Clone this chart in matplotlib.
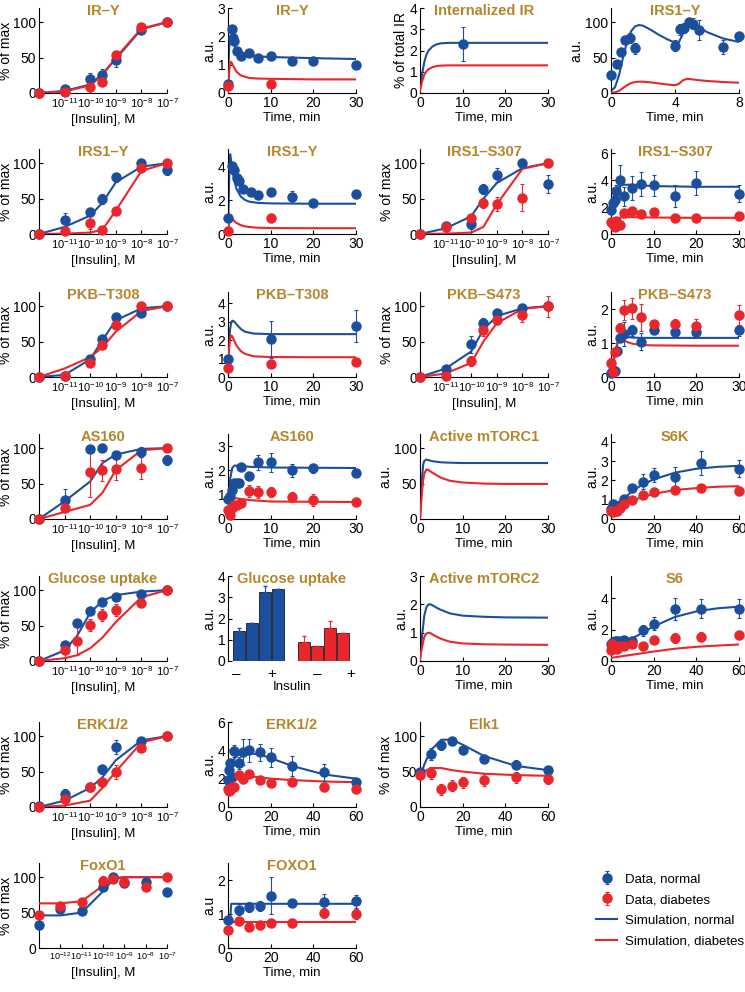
import numpy as np
import matplotlib
matplotlib.use('Agg')
import matplotlib.pyplot as plt
from matplotlib.ticker import LogLocator, NullFormatter
from matplotlib.lines import Line2D

plt.rcParams['font.family'] = ['Liberation Sans', 'DejaVu Sans']
plt.rcParams['mathtext.default'] = 'regular'

BLUE = '#1b4f9e'
RED = '#e8262c'
GOLD = '#b5852c'

# insulin concentrations (M); zero insulin sits at the left edge of the axis
conc = [1e-12, 1e-11, 1e-10, 3e-10, 1e-9, 1e-8, 1e-7]
conc_glu = [1e-12, 1e-11, 3e-11, 1e-10, 3e-10, 1e-9, 1e-8, 1e-7]
conc_foxo = [1e-13, 1e-12, 1e-11, 1e-10, 3e-10, 1e-9, 1e-8, 1e-7]

# ---- IR-Y ----
iry_dose_n = [0, 5, 20, 26, 46, 89, 100]
iry_dose_n_err = [0, 3, 8, 8, 9, 4, 0]
iry_dose_d = [0, 1, 9, 15, 54, 93, 100]
iry_dose_d_err = [0, 0, 3, 2, 4, 3, 0]
iry_dose_sim_n = [0, 3, 12, 27, 48, 90, 100]
iry_dose_sim_d = [0, 2, 11, 25, 50, 91, 100]

iry_t_n = [0, 1, 1.25, 1.5, 2, 3, 5, 7, 10, 15, 20, 30]
iry_n = [0.33, 2.25, 1.95, 1.85, 1.48, 1.32, 1.42, 1.22, 1.3, 1.12, 1.12, 1.0]
iry_n_err = [0.05, 0.1, 0.1, 0.1, 0.08, 0.08, 0.08, 0.05, 0.08, 0.05, 0.05, 0.12]
iry_t_d = [0, 10]
iry_d = [0.24, 0.33]
iry_d_err = [0.03, 0.03]
iry_sim_t = [0, 0.25, 0.5, 0.75, 1, 1.5, 2, 3, 5, 7, 10, 15, 20, 30]
iry_sim_n = [0.3, 1.5, 2.0, 1.95, 1.85, 1.65, 1.5, 1.4, 1.32, 1.29, 1.27, 1.25, 1.23, 1.2]
iry_sim_d = [0, 0.7, 1.05, 1.1, 1.02, 0.88, 0.75, 0.62, 0.53, 0.51, 0.5, 0.49, 0.48, 0.48]

# ---- Internalized IR ----
intir_t = [10]
intir_n = [2.3]
intir_n_err = [0.8]
intir_sim_t = [0, 0.5, 1, 1.5, 2, 3, 4, 5, 7, 10, 30]
intir_sim_n = [0.25, 0.9, 1.45, 1.8, 2.0, 2.2, 2.3, 2.34, 2.36, 2.36, 2.36]
intir_sim_d = [0.1, 0.55, 0.85, 1.02, 1.12, 1.22, 1.27, 1.29, 1.3, 1.3, 1.3]

# ---- IRS1-Y, 0-8 min ----
irs8_t = [0, 0.38, 0.63, 0.9, 1.2, 1.5, 4.0, 4.3, 4.55, 4.87, 5.13, 5.5, 7.0, 8.0]
irs8_n = [25, 41, 58, 75, 78, 63, 67, 90, 92, 100, 98, 89, 65, 80]
irs8_n_err = [4, 5, 6, 6, 7, 8, 8, 8, 7, 6, 8, 14, 10, 6]
irs8_sim_t = [0, 0.25, 0.5, 0.75, 1, 1.25, 1.5, 1.75, 2, 2.5, 3, 3.5, 4, 4.25, 4.5, 4.75, 5, 5.5, 6, 7, 8]
irs8_sim_n = [3, 8, 25, 50, 72, 87, 94, 96, 95, 89, 82, 76, 71, 72, 84, 95, 98, 93, 86, 77, 72]
irs8_sim_d = [0, 1, 3, 7, 11, 14, 15.5, 16, 16, 15, 13.5, 12, 11, 13, 18, 20, 19.5, 18, 17, 15.5, 14.5]

# ---- IRS1-Y ----
irs_dose_n = [0, 20, 31, 50, 80, 100, 90]
irs_dose_n_err = [0, 10, 6, 7, 6, 5, 7]
irs_dose_d = [0, 4, 16, 6, 32, 93, 100]
irs_dose_d_err = [0, 2, 9, 3, 3, 4, 0]
irs_dose_sim_n = [0, 10, 26, 44, 73, 95, 100]
irs_dose_sim_d = [0, 0.5, 2, 6, 33, 89, 100]

irs_t_n = [0, 1, 1.5, 2, 2.5, 3.5, 5.5, 7, 10, 15, 20, 30]
irs_n = [0.95, 4.0, 3.75, 3.3, 3.1, 2.65, 2.45, 2.3, 2.45, 2.2, 1.85, 2.35]
irs_n_err = [0.05, 0.2, 0.2, 0.15, 0.15, 0.1, 0.1, 0.15, 0.1, 0.35, 0.1, 0.1]
irs_t_d = [0, 10]
irs_d = [0.16, 0.97]
irs_d_err = [0.05, 0.2]
irs_sim_t = [0, 0.25, 0.5, 0.75, 1, 1.5, 2, 3, 4, 5, 7, 10, 20, 30]
irs_sim_n = [0, 3.0, 4.7, 4.3, 3.8, 3.1, 2.65, 2.2, 2.0, 1.9, 1.83, 1.8, 1.78, 1.78]
irs_sim_d = [0, 0.7, 1.0, 0.95, 0.9, 0.75, 0.65, 0.52, 0.45, 0.41, 0.37, 0.35, 0.34, 0.34]

# ---- IRS1-S307 ----
s307_dose_n = [0, 12, 14, 63, 83, 100, 71]
s307_dose_n_err = [0, 5, 7, 7, 10, 2, 13]
s307_dose_d = [0, 10, 23, 44, 42, 51, 100]
s307_dose_d_err = [0, 3, 5, 7, 10, 19, 0]
s307_dose_sim_n = [0, 8, 25, 50, 72, 93, 100]
s307_dose_sim_d = [0, 0.5, 2, 10, 42, 92, 100]

s307_t = [0, 0.5, 1, 1.25, 2, 3, 5, 7, 10, 15, 20, 30]
s307_n = [1.75, 2.3, 2.5, 3.2, 4.0, 2.8, 3.4, 3.7, 3.6, 2.8, 3.8, 3.0]
s307_n_err = [0.3, 0.3, 0.3, 0.4, 1.1, 0.7, 0.9, 0.9, 0.8, 0.8, 0.9, 0.6]
s307_d = [0.9, 0.72, 0.55, 1.0, 0.7, 1.55, 1.7, 1.5, 1.6, 1.2, 1.2, 1.3]
s307_d_err = [0.15, 0.2, 0.15, 0.2, 0.15, 0.25, 0.2, 0.15, 0.15, 0.1, 0.15, 0.1]
s307_sim_t = [0, 0.5, 1, 1.5, 2, 3, 5, 10, 20, 30]
s307_sim_n = [1.8, 2.5, 3.0, 3.35, 3.55, 3.65, 3.65, 3.55, 3.5, 3.5]
s307_sim_d = [0.9, 1.0, 1.1, 1.15, 1.2, 1.25, 1.25, 1.22, 1.2, 1.2]

# ---- PKB-T308 ----
t308_dose_n = [0, 1, 25, 54, 85, 91, 100]
t308_dose_n_err = [0, 1, 3, 5, 5, 4, 0]
t308_dose_d = [0, 2, 20, 45, 73, 100, 100]
t308_dose_d_err = [0, 1, 3, 3, 3, 3, 0]
t308_dose_sim_n = [0, 3, 25, 52, 80, 97, 100]
t308_dose_sim_d = [0, 12, 28, 42, 64, 93, 100]

t308_t = [0, 10, 30]
t308_n = [1.0, 2.05, 2.75]
t308_n_err = [0.1, 1.0, 0.85]
t308_d = [0.47, 0.7, 0.8]
t308_d_err = [0.05, 0.15, 0.07]
t308_sim_t = [0, 0.25, 0.5, 0.75, 1, 1.5, 2, 3, 4, 6, 10, 20, 30]
t308_sim_n = [1.0, 1.9, 2.6, 2.95, 3.05, 3.0, 2.85, 2.6, 2.45, 2.35, 2.32, 2.32, 2.32]
t308_sim_d = [0.5, 1.5, 2.1, 2.25, 2.2, 1.95, 1.7, 1.4, 1.25, 1.12, 1.08, 1.07, 1.07]

# ---- PKB-S473 ----
s473_dose_n = [0, 12, 46, 76, 91, 97, 100]
s473_dose_n_err = [0, 2, 12, 8, 5, 6, 0]
s473_dose_d = [0, 1, 22, 67, 80, 87, 100]
s473_dose_d_err = [0, 1, 7, 9, 5, 9, 15]
s473_dose_sim_n = [0, 12, 36, 67, 86, 97, 100]
s473_dose_sim_d = [0, 5, 20, 50, 76, 96, 100]

s473_t_n = [0, 0.5, 1, 1.5, 2, 3, 5, 7, 10, 15, 20, 30]
s473_n = [0.12, 0.2, 0.17, 0.76, 1.14, 1.27, 1.37, 1.03, 1.37, 1.32, 1.32, 1.37]
s473_n_err = [0.03, 0.05, 0.05, 0.1, 0.1, 0.35, 0.15, 0.25, 0.1, 0.15, 0.1, 0.15]
s473_t_d = [0, 0.5, 1, 2, 3, 5, 7, 10, 15, 20, 30]
s473_d = [0.4, 0.15, 0.73, 1.43, 1.97, 2.02, 1.76, 1.56, 1.56, 1.51, 1.83]
s473_d_err = [0.15, 0.05, 0.1, 0.15, 0.3, 0.3, 0.4, 0.1, 0.15, 0.2, 0.3]
s473_sim_t = [0, 0.5, 1, 1.5, 2, 2.5, 3, 4, 5, 7, 10, 20, 30]
s473_sim_n = [0.05, 0.35, 0.7, 0.98, 1.15, 1.2, 1.18, 1.17, 1.16, 1.15, 1.15, 1.15, 1.15]
s473_sim_d = [0.05, 0.4, 0.75, 1.0, 1.1, 1.12, 1.08, 1.02, 0.98, 0.94, 0.93, 0.92, 0.92]

# ---- AS160 ----
as160_dose_n = [0, 27, 99, 100, 91, 94, 83]
as160_dose_n_err = [0, 15, 3, 3, 3, 7, 7]
as160_dose_d = [0, 16, 66, 69, 70, 72, 100]
as160_dose_d_err = [0, 5, 35, 15, 15, 15, 5]
as160_dose_sim_n = [0, 25, 53, 79, 91, 99, 100]
as160_dose_sim_d = [0, 10, 20, 37, 69, 97, 100]

as160_t_n = [0, 0.5, 1, 1.5, 2, 2.5, 3, 5, 7, 10, 15, 20, 30]
as160_n = [0.84, 0.96, 1.2, 1.5, 1.5, 1.5, 2.15, 1.77, 2.33, 2.33, 2.0, 2.08, 1.9]
as160_n_err = [0.05, 0.1, 0.1, 0.1, 0.1, 0.1, 0.1, 0.1, 0.3, 0.4, 0.25, 0.2, 0.15]
as160_t_d = [0, 0.5, 1, 1.5, 2, 3, 5, 7, 10, 15, 20, 30]
as160_d = [0.37, 0.17, 0.45, 0.59, 0.59, 0.65, 1.17, 1.1, 1.1, 0.9, 0.8, 0.72]
as160_d_err = [0.1, 0.05, 0.1, 0.1, 0.1, 0.15, 0.25, 0.25, 0.2, 0.2, 0.25, 0.15]
as160_sim_t = [0, 0.25, 0.5, 1, 1.5, 2, 5, 10, 30]
as160_sim_n = [0.8, 1.2, 1.65, 2.1, 2.2, 2.2, 2.15, 2.12, 2.1]
as160_sim_d = [0.4, 0.55, 0.68, 0.8, 0.85, 0.85, 0.78, 0.72, 0.7]

# ---- Active mTORC1 ----
mtorc1_sim_t = [0, 0.25, 0.5, 0.75, 1, 1.5, 2, 3, 5, 7, 10, 15, 20, 30]
mtorc1_sim_n = [0, 30, 60, 77, 82, 84, 83, 81.5, 80, 79.5, 79, 79, 79, 79]
mtorc1_sim_d = [0, 20, 40, 55, 64, 70, 69, 65, 58, 54, 51.5, 50, 49.5, 49.5]

# ---- S6K ----
s6k_t = [0, 1, 2, 3, 4, 6, 10, 15, 20, 30, 42, 60]
s6k_n = [0.53, 0.8, 0.65, 0.58, 0.75, 1.05, 1.58, 1.93, 2.28, 2.2, 2.9, 2.6]
s6k_n_err = [0.1, 0.2, 0.1, 0.1, 0.1, 0.15, 0.2, 0.4, 0.35, 0.5, 0.6, 0.45]
s6k_d = [0.44, 0.35, 0.44, 0.4, 0.58, 0.8, 0.96, 1.23, 1.4, 1.49, 1.58, 1.44]
s6k_d_err = [0.1, 0.1, 0.1, 0.1, 0.1, 0.1, 0.1, 0.2, 0.15, 0.15, 0.15, 0.15]
s6k_sim_t = [0, 2, 5, 10, 15, 20, 30, 40, 50, 60]
s6k_sim_n = [0.7, 0.75, 0.95, 1.45, 1.8, 2.05, 2.4, 2.6, 2.7, 2.75]
s6k_sim_d = [0.45, 0.48, 0.65, 0.95, 1.15, 1.3, 1.5, 1.6, 1.67, 1.7]

# ---- Glucose uptake ----
glu_dose_n = [0, 23, 54, 71, 84, 90, 95, 100]
glu_dose_n_err = [0, 4, 5, 5, 3, 3, 3, 0]
glu_dose_d = [0, 16, 28, 51, 65, 72, 82, 100]
glu_dose_d_err = [0, 12, 20, 8, 9, 8, 6, 0]
glu_dose_sim_n = [0, 15, 35, 68, 85, 93, 98, 100]
glu_dose_sim_d = [0, 4, 8, 18, 33, 55, 90, 100]

glu_bar_n = [1.42, 1.8, 3.25, 3.38]
glu_bar_n_err = [0.12, 0, 0.28, 0]
glu_bar_d = [0.88, 0.7, 1.57, 1.32]
glu_bar_d_err = [0.3, 0, 0.3, 0]
glu_bar_ticks = ['\u2013', '+', '\u2013', '+']

# ---- Active mTORC2 ----
mtorc2_sim_t = [0, 0.25, 0.5, 1, 1.5, 2, 2.5, 3, 4, 5, 7, 10, 15, 20, 30]
mtorc2_sim_n = [0.1, 0.5, 0.9, 1.6, 1.9, 2.0, 2.0, 1.96, 1.87, 1.8, 1.68, 1.6, 1.56, 1.54, 1.53]
mtorc2_sim_d = [0.05, 0.3, 0.5, 0.85, 0.97, 1.0, 0.98, 0.93, 0.85, 0.78, 0.68, 0.62, 0.59, 0.58, 0.57]

# ---- S6 ----
s6_t_n = [0, 1, 2, 3, 4, 6, 10, 15, 20, 30, 42, 60]
s6_n = [1.1, 1.2, 1.3, 1.25, 1.3, 1.33, 1.3, 1.95, 2.37, 3.33, 3.33, 3.33]
s6_n_err = [0.2, 0.2, 0.2, 0.2, 0.2, 0.25, 0.2, 0.35, 0.4, 0.7, 0.6, 0.6]
s6_t_d = [0, 0.5, 1, 2, 3, 4, 6, 10, 15, 20, 30, 42, 60]
s6_d = [0.7, 1.1, 0.86, 0.97, 0.75, 0.97, 0.97, 1.08, 0.97, 1.35, 1.46, 1.55, 1.68]
s6_d_err = [0.2, 0.3, 0.2, 0.2, 0.2, 0.2, 0.2, 0.2, 0.15, 0.25, 0.3, 0.3, 0.25]
s6_sim_t = [0, 5, 10, 15, 20, 30, 40, 50, 60]
s6_sim_n = [1.2, 1.25, 1.45, 1.8, 2.2, 2.8, 3.15, 3.35, 3.45]
s6_sim_d = [0.2, 0.3, 0.4, 0.5, 0.6, 0.78, 0.9, 0.98, 1.05]

# ---- ERK1/2 ----
erk_dose_n = [2, 19, 28, 53, 85, 93, 100]
erk_dose_n_err = [3, 6, 3, 7, 10, 2, 0]
erk_dose_d = [0, 12, 28, 35, 50, 83, 100]
erk_dose_d_err = [0, 3, 6, 6, 10, 3, 0]
erk_dose_sim_n = [0, 9, 27, 42, 66, 94, 100]
erk_dose_sim_d = [0, 2, 9, 27, 50, 91, 100]

erk_t = [0, 0.5, 1, 2, 3, 5, 7, 10, 15, 20, 30, 45, 60]
erk_n = [1.92, 2.6, 3.1, 2.15, 3.95, 3.1, 3.9, 4.0, 3.85, 3.5, 2.9, 2.45, 1.75]
erk_n_err = [0.1, 0.2, 0.2, 0.2, 0.4, 0.4, 0.9, 0.8, 0.6, 0.7, 0.7, 0.6, 0.15]
erk_d = [1.3, 1.1, 1.2, 1.4, 1.4, 2.28, 2.0, 2.35, 1.92, 1.68, 1.73, 1.4, 1.25]
erk_d_err = [0.15, 0.15, 0.15, 0.15, 0.15, 0.2, 0.2, 0.15, 0.15, 0.1, 0.1, 0.1, 0.1]
erk_sim_t = [0, 1, 2, 4, 6, 10, 15, 20, 30, 45, 60]
erk_sim_n = [1.9, 2.8, 3.2, 3.6, 3.75, 3.8, 3.7, 3.45, 2.9, 2.3, 2.0]
erk_sim_d = [1.3, 1.6, 1.8, 2.05, 2.15, 2.15, 2.1, 2.0, 1.9, 1.8, 1.75]

# ---- Elk1 ----
elk_t = [0, 5, 10, 15, 20, 30, 45, 60]
elk_n = [50, 75, 87, 93, 80, 68, 60, 52]
elk_n_err = [5, 8, 6, 5, 5, 5, 6, 5]
elk_d = [45, 48, 25, 30, 35, 38, 42, 40]
elk_d_err = [5, 8, 8, 8, 8, 8, 8, 8]
elk_sim_t = [0, 2, 5, 10, 15, 20, 30, 45, 60]
elk_sim_n = [40, 60, 80, 95, 95, 88, 72, 58, 52]
elk_sim_d = [40, 50, 55, 55, 52, 50, 47, 45, 44]

# ---- FoxO1 ----
foxo_dose_n = [33, 55, 52, 86, 100, 92, 93, 79]
foxo_dose_n_err = [5, 6, 6, 6, 5, 6, 5, 6]
foxo_dose_d = [47, 59, 65, 95, 98, 93, 86, 100]
foxo_dose_d_err = [4, 6, 6, 6, 4, 4, 6, 6]
foxo_dose_sim_n = [46, 46, 50, 80, 97, 100, 100, 100]
foxo_dose_sim_d = [63, 63, 66, 88, 99, 100, 100, 100]

foxo_t = [0, 5, 10, 15, 20, 30, 45, 60]
foxo_n = [0.83, 1.13, 1.2, 1.23, 1.54, 1.32, 1.34, 1.37]
foxo_n_err = [0.1, 0.15, 0.15, 0.15, 0.55, 0.12, 0.25, 0.2]
foxo_d = [0.52, 0.78, 0.62, 0.69, 0.75, 0.74, 1.03, 1.01]
foxo_d_err = [0.08, 0.08, 0.06, 0.06, 0.06, 0.05, 0.15, 0.15]
foxo_sim_t = [0, 1, 1.5, 60]
foxo_sim_n = [0.8, 0.82, 1.3, 1.3]
foxo_sim_d = [0.77, 0.77, 0.77, 0.77]


W, H = 745, 992
fig = plt.figure(figsize=(W / 100, H / 100), dpi=100)

col_left = [39, 228, 420, 611]
row_bottom = [93, 234, 377, 519, 661, 807, 948]

TICK = 10
LABEL = 9.5
YLABEL = 10


def new_ax(col, row, title):
    ax = fig.add_axes([col_left[col] / W, 1 - row_bottom[row] / H, 128 / W, 85 / H])
    ax.spines[['top', 'right']].set_visible(False)
    for s in ['left', 'bottom']:
        ax.spines[s].set_linewidth(0.8)
    ax.tick_params(direction='in', length=3, width=0.8, labelsize=TICK, pad=2)
    ax.tick_params(which='minor', direction='in', length=1.5, width=0.5)
    ax.text(0.5, 0.97, title, transform=ax.transAxes, ha='center', va='center',
            color=GOLD, fontweight='bold', fontsize=10.5)
    return ax


def points(ax, x, y, e, color):
    h = ax.errorbar(x, y, yerr=e, fmt='o', color=color, ms=6.5, elinewidth=0.8,
                    capsize=1.5, capthick=0.8, clip_on=False, zorder=4)
    return h


def dose_panel(col, row, title, x, n, ne, d, de, sn, sd, xmin=1e-12, first=-11, tsize=8):
    ax = new_ax(col, row, title)
    ax.set_xscale('log')
    ax.plot(x, sn, color=BLUE, lw=1.5, zorder=2)
    ax.plot(x, sd, color=RED, lw=1.5, zorder=3)
    points(ax, x, n, ne, BLUE)
    points(ax, x, d, de, RED)
    ax.set_xlim(xmin, 1e-7)
    ax.set_ylim(0, 120)
    ax.set_yticks([0, 50, 100])
    exps = list(range(first, -6))
    ax.set_xticks([10.0 ** e for e in exps])
    ax.set_xticklabels(['$10^{%d}$' % e for e in exps], fontsize=tsize)
    ax.xaxis.set_minor_locator(LogLocator(base=10, subs=np.arange(2, 10)))
    ax.xaxis.set_minor_formatter(NullFormatter())
    ax.set_xlabel('[Insulin], M', fontsize=LABEL, labelpad=3)
    ax.set_ylabel('% of max', fontsize=YLABEL, labelpad=0)
    return ax


def time_panel(col, row, title, xmax, xticks, ylim, yticks, sim_t, sn, sd,
               tn=None, n=None, ne=None, td=None, d=None, de=None, ylabel='a.u.'):
    ax = new_ax(col, row, title)
    ax.plot(sim_t, sn, color=BLUE, lw=1.5, zorder=2)
    ax.plot(sim_t, sd, color=RED, lw=1.5, zorder=3)
    hn = hd = None
    if n is not None:
        hn = points(ax, tn, n, ne, BLUE)
    if d is not None:
        hd = points(ax, td, d, de, RED)
    ax.set_xlim(0, xmax)
    ax.set_xticks(xticks)
    ax.set_ylim(*ylim)
    ax.set_yticks(yticks)
    ax.set_xlabel('Time, min', fontsize=LABEL, labelpad=1)
    ax.set_ylabel(ylabel, fontsize=YLABEL, labelpad=1)
    return ax, hn, hd


# row 1
dose_panel(0, 0, 'IR\u2013Y', conc, iry_dose_n, iry_dose_n_err, iry_dose_d, iry_dose_d_err,
           iry_dose_sim_n, iry_dose_sim_d)
time_panel(1, 0, 'IR\u2013Y', 30, [0, 10, 20, 30], (0, 3), [0, 1, 2, 3],
           iry_sim_t, iry_sim_n, iry_sim_d, iry_t_n, iry_n, iry_n_err, iry_t_d, iry_d, iry_d_err)
time_panel(2, 0, 'Internalized IR', 30, [0, 10, 20, 30], (0, 4), [0, 1, 2, 3, 4],
           intir_sim_t, intir_sim_n, intir_sim_d, intir_t, intir_n, intir_n_err,
           ylabel='% of total IR')
time_panel(3, 0, 'IRS1\u2013Y', 8, [0, 4, 8], (0, 120), [0, 50, 100],
           irs8_sim_t, irs8_sim_n, irs8_sim_d, irs8_t, irs8_n, irs8_n_err)

# row 2
dose_panel(0, 1, 'IRS1\u2013Y', conc, irs_dose_n, irs_dose_n_err, irs_dose_d, irs_dose_d_err,
           irs_dose_sim_n, irs_dose_sim_d)
time_panel(1, 1, 'IRS1\u2013Y', 30, [0, 10, 20, 30], (0, 5), [0, 2, 4],
           irs_sim_t, irs_sim_n, irs_sim_d, irs_t_n, irs_n, irs_n_err, irs_t_d, irs_d, irs_d_err)
dose_panel(2, 1, 'IRS1\u2013S307', conc, s307_dose_n, s307_dose_n_err, s307_dose_d, s307_dose_d_err,
           s307_dose_sim_n, s307_dose_sim_d)
time_panel(3, 1, 'IRS1\u2013S307', 30, [0, 10, 20, 30], (0, 6.3), [0, 2, 4, 6],
           s307_sim_t, s307_sim_n, s307_sim_d, s307_t, s307_n, s307_n_err, s307_t, s307_d, s307_d_err)

# row 3
dose_panel(0, 2, 'PKB\u2013T308', conc, t308_dose_n, t308_dose_n_err, t308_dose_d, t308_dose_d_err,
           t308_dose_sim_n, t308_dose_sim_d)
time_panel(1, 2, 'PKB\u2013T308', 30, [0, 10, 20, 30], (0, 4.6), [0, 1, 2, 3, 4],
           t308_sim_t, t308_sim_n, t308_sim_d, t308_t, t308_n, t308_n_err, t308_t, t308_d, t308_d_err)
dose_panel(2, 2, 'PKB\u2013S473', conc, s473_dose_n, s473_dose_n_err, s473_dose_d, s473_dose_d_err,
           s473_dose_sim_n, s473_dose_sim_d)
time_panel(3, 2, 'PKB\u2013S473', 30, [0, 10, 20, 30], (0, 2.5), [0, 1, 2],
           s473_sim_t, s473_sim_n, s473_sim_d, s473_t_n, s473_n, s473_n_err, s473_t_d, s473_d, s473_d_err)

# row 4
dose_panel(0, 3, 'AS160', conc, as160_dose_n, as160_dose_n_err, as160_dose_d, as160_dose_d_err,
           as160_dose_sim_n, as160_dose_sim_d)
time_panel(1, 3, 'AS160', 30, [0, 10, 20, 30], (0, 3.5), [0, 1, 2, 3],
           as160_sim_t, as160_sim_n, as160_sim_d, as160_t_n, as160_n, as160_n_err,
           as160_t_d, as160_d, as160_d_err)
time_panel(2, 3, 'Active mTORC1', 30, [0, 10, 20, 30], (0, 120), [0, 50, 100],
           mtorc1_sim_t, mtorc1_sim_n, mtorc1_sim_d)
time_panel(3, 3, 'S6K', 60, [0, 20, 40, 60], (0, 4.4), [0, 1, 2, 3, 4],
           s6k_sim_t, s6k_sim_n, s6k_sim_d, s6k_t, s6k_n, s6k_n_err, s6k_t, s6k_d, s6k_d_err)

# row 5
dose_panel(0, 4, 'Glucose uptake', conc_glu, glu_dose_n, glu_dose_n_err, glu_dose_d, glu_dose_d_err,
           glu_dose_sim_n, glu_dose_sim_d)

ax = new_ax(1, 4, 'Glucose uptake')
pos_n = np.arange(1, len(glu_bar_n) + 1)
pos_d = pos_n + len(glu_bar_n) + 1
ax.bar(pos_n, glu_bar_n, width=0.92, color=BLUE, edgecolor='black', lw=0.5)
ax.bar(pos_d, glu_bar_d, width=0.92, color=RED, edgecolor='black', lw=0.5)
ax.errorbar(pos_n, glu_bar_n, yerr=[np.zeros(len(glu_bar_n)), glu_bar_n_err], fmt='none',
            ecolor=BLUE, elinewidth=0.8, capsize=1.5)
ax.errorbar(pos_d, glu_bar_d, yerr=[np.zeros(len(glu_bar_d)), glu_bar_d_err], fmt='none',
            ecolor=RED, elinewidth=0.8, capsize=1.5)
ax.set_xlim(0.16, 10.0)
ax.set_ylim(0, 4)
ax.set_yticks([0, 1, 2, 3, 4])
ax.set_xticks([0.82, 3.5, 7.0, 9.6])
ax.set_xticklabels(glu_bar_ticks, fontsize=11)
ax.tick_params(axis='x', length=0, pad=4)
ax.spines['bottom'].set_visible(False)
ax.set_xlabel('Insulin', fontsize=LABEL, labelpad=0)
ax.set_ylabel('a.u.', fontsize=YLABEL, labelpad=1)

time_panel(2, 4, 'Active mTORC2', 30, [0, 10, 20, 30], (0, 3), [0, 1, 2, 3],
           mtorc2_sim_t, mtorc2_sim_n, mtorc2_sim_d)
time_panel(3, 4, 'S6', 60, [0, 20, 40, 60], (0, 5.4), [0, 2, 4],
           s6_sim_t, s6_sim_n, s6_sim_d, s6_t_n, s6_n, s6_n_err, s6_t_d, s6_d, s6_d_err)

# row 6
dose_panel(0, 5, 'ERK1/2', conc, erk_dose_n, erk_dose_n_err, erk_dose_d, erk_dose_d_err,
           erk_dose_sim_n, erk_dose_sim_d)
time_panel(1, 5, 'ERK1/2', 60, [0, 20, 40, 60], (0, 6), [0, 2, 4, 6],
           erk_sim_t, erk_sim_n, erk_sim_d, erk_t, erk_n, erk_n_err, erk_t, erk_d, erk_d_err)
time_panel(2, 5, 'Elk1', 60, [0, 20, 40, 60], (0, 120), [0, 50, 100],
           elk_sim_t, elk_sim_n, elk_sim_d, elk_t, elk_n, elk_n_err, elk_t, elk_d, elk_d_err,
           ylabel='% of max')

# row 7
dose_panel(0, 6, 'FoxO1', conc_foxo, foxo_dose_n, foxo_dose_n_err, foxo_dose_d, foxo_dose_d_err,
           foxo_dose_sim_n, foxo_dose_sim_d, xmin=1e-13, first=-12, tsize=6.5)
ax, h_n, h_d = time_panel(1, 6, 'FOXO1', 60, [0, 20, 40, 60], (0, 2.5), [0, 1, 2],
                          foxo_sim_t, foxo_sim_n, foxo_sim_d, foxo_t, foxo_n, foxo_n_err,
                          foxo_t, foxo_d, foxo_d_err, ylabel='a.u')

handles = [h_n, h_d, Line2D([], [], color=BLUE, lw=1.5), Line2D([], [], color=RED, lw=1.5)]
labels = ['Data, normal', 'Data, diabetes', 'Simulation, normal', 'Simulation, diabetes']
fig.legend(handles, labels, loc='upper left', bbox_to_anchor=(596 / W, 1 - 873 / H),
           frameon=False, fontsize=9.5, handlelength=1.6, handletextpad=0.6,
           labelspacing=0.65, borderaxespad=0, borderpad=0)

fig.savefig('out.png', dpi=100)
